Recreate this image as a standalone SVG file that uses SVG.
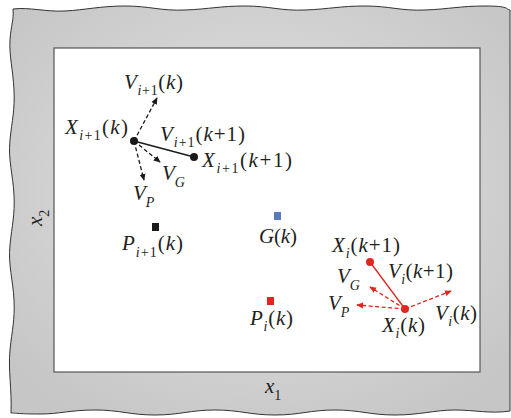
<svg xmlns="http://www.w3.org/2000/svg" width="511" height="418" viewBox="0 0 511 418">
<style>
.t{font-family:"Liberation Serif","DejaVu Serif",serif;font-style:italic;font-size:21px;fill:#231f20}
.s{font-size:14px}
.u{font-style:normal}
.dk{stroke:#1a1a1a;stroke-width:1.3;fill:none}
.rd{stroke:#e0261f;stroke-width:1.3;fill:none}
.dash{stroke-dasharray:4 2.5}
</style>
<defs>
<radialGradient id="bg" cx="50%" cy="45%" r="65%">
<stop offset="0" stop-color="#e4e4e4"/>
<stop offset="1" stop-color="#c6c6c6"/>
</radialGradient>
<marker id="ak" viewBox="0 0 8 8" refX="7" refY="4" markerWidth="7" markerHeight="7" markerUnits="userSpaceOnUse" orient="auto">
<path d="M0,0.5 L8,4 L0,7.5 Z" fill="#1a1a1a"/>
</marker>
<marker id="ar" viewBox="0 0 8 8" refX="7" refY="4" markerWidth="7" markerHeight="7" markerUnits="userSpaceOnUse" orient="auto">
<path d="M0,0.5 L8,4 L0,7.5 Z" fill="#e0261f"/>
</marker>
</defs>
<g id="frame">
<path d="M13,9 C30,7 45,12 65,11 S100,6 125,6 S160,11 185,10 S220,6 245,6 S280,11 305,10 S340,6 365,6 S400,11 425,10 S460,6 485,6 S505,9 510,10 L510,411 C490,414 475,410 455,410 S420,415 395,415 S360,410 335,410 S300,415 275,415 S240,410 215,410 S180,415 155,415 S120,410 95,410 S60,414 40,414 S15,413 11,413 C12,390 8,370 10,350 S15,320 14,300 S8,265 10,245 S15,215 14,195 S8,160 10,140 S15,110 14,90 S9,55 10,40 S14,20 13,9 Z" fill="url(#bg)" stroke="#333" stroke-width="1"/>
<rect x="54" y="48" width="426" height="324" fill="#fff" stroke="#555" stroke-width="1.2"/>
<text class="t" x="265" y="393">x<tspan class="s u" dy="7">1</tspan></text>
<text class="t" transform="translate(42,226) rotate(-90)">x<tspan class="s u" dy="7">2</tspan></text>
</g>
<g id="connectors">
<line class="dk dash" x1="134" y1="141" x2="157" y2="98" marker-end="url(#ak)"/>
<line class="dk dash" x1="134" y1="141" x2="160" y2="162" marker-end="url(#ak)"/>
<line class="dk dash" x1="134" y1="141" x2="144" y2="180" marker-end="url(#ak)"/>
<line class="dk" x1="134" y1="141" x2="194" y2="157"/>
<line class="rd dash" x1="405" y1="309" x2="451" y2="291" marker-end="url(#ar)"/>
<line class="rd dash" x1="405" y1="309" x2="370" y2="287" marker-end="url(#ar)"/>
<line class="rd dash" x1="405" y1="309" x2="357" y2="305" marker-end="url(#ar)"/>
<line class="rd" x1="405" y1="309" x2="370" y2="262"/>
</g>
<g id="node-Xi1k">
<circle cx="134" cy="141" r="4" fill="#1a1a1a"/>
<text class="t" x="65" y="134" textLength="63" lengthAdjust="spacing">X<tspan class="s" dy="6">i<tspan class="u">+1</tspan></tspan><tspan class="u" dy="-6">(</tspan>k<tspan class="u">)</tspan></text>
</g>
<g id="node-Xi1k1">
<circle cx="194" cy="157" r="4" fill="#1a1a1a"/>
<text class="t" x="202" y="167" textLength="90" lengthAdjust="spacing">X<tspan class="s" dy="6">i<tspan class="u">+1</tspan></tspan><tspan class="u" dy="-6">(</tspan>k<tspan class="u">+1)</tspan></text>
</g>
<g id="label-Vi1k">
<text class="t" x="124" y="89" textLength="59" lengthAdjust="spacing">V<tspan class="s" dy="6">i<tspan class="u">+1</tspan></tspan><tspan class="u" dy="-6">(</tspan>k<tspan class="u">)</tspan></text>
</g>
<g id="label-Vi1k1">
<text class="t" x="160" y="141" textLength="85" lengthAdjust="spacing">V<tspan class="s" dy="6">i<tspan class="u">+1</tspan></tspan><tspan class="u" dy="-6">(</tspan>k<tspan class="u">+1)</tspan></text>
</g>
<g id="label-VG1">
<text class="t" x="162" y="180">V<tspan class="s" dy="7">G</tspan></text>
</g>
<g id="label-VP1">
<text class="t" x="133" y="200">V<tspan class="s" dy="7">P</tspan></text>
</g>
<g id="node-Pi1k">
<rect x="152" y="223" width="7" height="8" fill="#1a1a1a"/>
<text class="t" x="122" y="250" textLength="61" lengthAdjust="spacing">P<tspan class="s" dy="7">i<tspan class="u">+1</tspan></tspan><tspan class="u" dy="-7">(</tspan>k<tspan class="u">)</tspan></text>
</g>
<g id="node-Gk">
<rect x="274" y="212" width="7" height="8" fill="#5b7bbf"/>
<text class="t" x="259" y="243" textLength="38" lengthAdjust="spacing">G<tspan class="u">(</tspan>k<tspan class="u">)</tspan></text>
</g>
<g id="node-Pik">
<rect x="267" y="297" width="7" height="8" fill="#e0261f"/>
<text class="t" x="250" y="325" textLength="43" lengthAdjust="spacing">P<tspan class="s" dy="6">i</tspan><tspan class="u" dy="-6">(</tspan>k<tspan class="u">)</tspan></text>
</g>
<g id="node-Xik">
<circle cx="405" cy="309" r="4" fill="#e0261f"/>
<text class="t" x="382" y="332" textLength="43" lengthAdjust="spacing">X<tspan class="s" dy="6">i</tspan><tspan class="u" dy="-6">(</tspan>k<tspan class="u">)</tspan></text>
</g>
<g id="node-Xik1">
<circle cx="370" cy="262" r="4" fill="#e0261f"/>
<text class="t" x="332" y="252" textLength="68" lengthAdjust="spacing">X<tspan class="s" dy="6">i</tspan><tspan class="u" dy="-6">(</tspan>k<tspan class="u">+1)</tspan></text>
</g>
<g id="label-Vik1">
<text class="t" x="388" y="278" textLength="65" lengthAdjust="spacing">V<tspan class="s" dy="6">i</tspan><tspan class="u" dy="-6">(</tspan>k<tspan class="u">+1)</tspan></text>
</g>
<g id="label-Vik">
<text class="t" x="435" y="320" textLength="42" lengthAdjust="spacing">V<tspan class="s" dy="6">i</tspan><tspan class="u" dy="-6">(</tspan>k<tspan class="u">)</tspan></text>
</g>
<g id="label-VG2">
<text class="t" x="337" y="283">V<tspan class="s" dy="7">G</tspan></text>
</g>
<g id="label-VP2">
<text class="t" x="328" y="310">V<tspan class="s" dy="7">P</tspan></text>
</g>
</svg>
